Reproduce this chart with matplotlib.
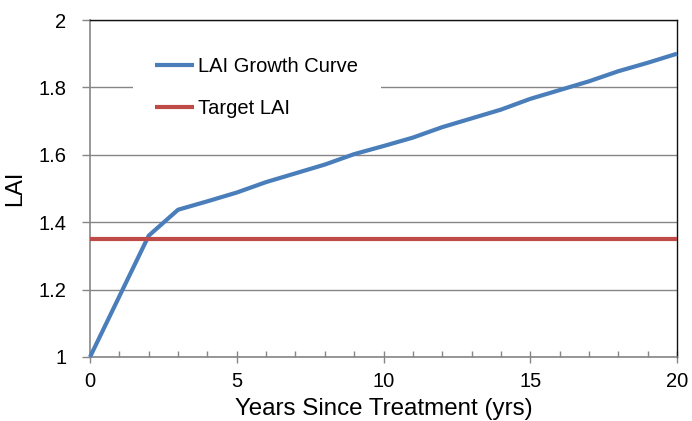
import numpy as np
import matplotlib.pyplot as plt
from matplotlib.ticker import MultipleLocator

# data
years = list(range(0, 21))
lai = [1.00, 1.18, 1.36, 1.437, 1.462, 1.488, 1.519, 1.545, 1.571, 1.602, 1.626,
       1.651, 1.682, 1.708, 1.734, 1.766, 1.792, 1.818, 1.848, 1.873, 1.900]
target_lai = 1.35

plt.rcParams['font.family'] = ['Liberation Sans', 'DejaVu Sans']

fig = plt.figure(figsize=(6.92, 4.21), dpi=100, facecolor='w')
ax = fig.add_axes([90/692, 1 - 357/421, (677-90)/692, (357-20)/421])

ax.plot(years, lai, color='#4a7ebb', lw=3, label='LAI Growth Curve',
        solid_capstyle='butt', zorder=3, clip_on=False)
ax.plot([years[0], years[-1]], [target_lai, target_lai], color='#be4b48', lw=3,
        label='Target LAI', solid_capstyle='butt', zorder=3, clip_on=False)

ax.set_xlim(0, 20)
ax.set_ylim(1, 2)
ax.xaxis.set_major_locator(MultipleLocator(5))
ax.xaxis.set_minor_locator(MultipleLocator(1))
ax.set_yticks([1, 1.2, 1.4, 1.6, 1.8, 2])
ax.yaxis.set_major_formatter(plt.FuncFormatter(lambda v, p: '%g' % round(v, 1)))

ax.grid(axis='y', color='#868686', lw=1)
ax.set_axisbelow(True)

for s in ['left', 'bottom']:
    ax.spines[s].set_color('#868686')
    ax.spines[s].set_linewidth(1.2)
for s in ['top', 'right']:
    ax.spines[s].set_color('#111111')
    ax.spines[s].set_linewidth(1)

ax.tick_params(axis='x', which='major', direction='inout', length=9, width=1,
               color='#868686', labelsize=14.5, pad=6)
ax.tick_params(axis='x', which='minor', direction='in', length=4, width=1,
               color='#868686')
ax.tick_params(axis='y', which='major', direction='out', length=6, width=1,
               color='#868686', labelsize=14.5, pad=11)

ax.set_ylabel('LAI', fontsize=17)
ax.yaxis.set_label_coords(-0.108, 0.5)
ax.set_xlabel('Years Since Treatment (yrs)', fontsize=17.4)
ax.xaxis.set_label_coords(0.5, -0.123)
ax.xaxis.label.set_va('top')

leg = ax.legend(loc='upper left', bbox_to_anchor=(43/587, (357-35)/337), fontsize=14.5,
                frameon=True, framealpha=1, edgecolor='none', fancybox=False,
                handlelength=1.95, handletextpad=0.2, labelspacing=1.15,
                borderpad=1.1, borderaxespad=0)
leg.get_frame().set_facecolor('white')

fig.savefig('out.png', dpi=100)
